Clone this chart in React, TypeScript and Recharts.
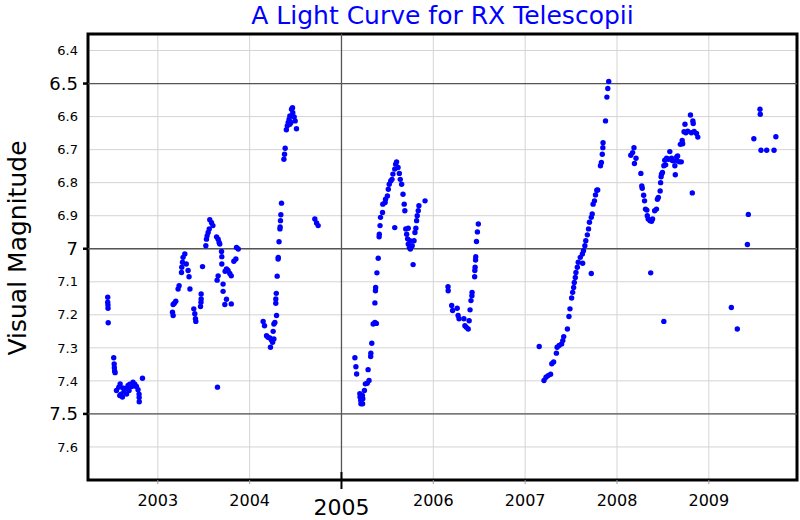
import {
  ScatterChart,
  Scatter,
  XAxis,
  YAxis,
  CartesianGrid,
  ReferenceLine,
  ReferenceArea,
} from 'recharts';

// axis ranges and ticks
const X_MIN = 2002.24;
const X_MAX = 2009.96;
const Y_MIN = 6.35;
const Y_MAX = 7.7;
const YEAR_TICKS = [2003, 2004, 2005, 2006, 2007, 2008, 2009];
const MAG_TICKS = [6.4, 6.5, 6.6, 6.7, 6.8, 6.9, 7, 7.1, 7.2, 7.3, 7.4, 7.5, 7.6];
const MAJOR_MAGS = [6.5, 7, 7.5];
const MAJOR_YEAR = 2005;

// observations: [year, visual magnitude], one list per season
const SEASON_2002 = [
  [2002.455, 7.147], [2002.455, 7.162], [2002.457, 7.17], [2002.458, 7.18], [2002.46, 7.224],
  [2002.52, 7.33], [2002.525, 7.349], [2002.527, 7.36], [2002.53, 7.37], [2002.535, 7.375],
  [2002.55, 7.429], [2002.575, 7.419], [2002.59, 7.409], [2002.586, 7.444], [2002.6, 7.44],
  [2002.615, 7.449], [2002.62, 7.421], [2002.63, 7.434], [2002.65, 7.424], [2002.66, 7.44],
  [2002.676, 7.414], [2002.687, 7.429], [2002.695, 7.41], [2002.714, 7.417], [2002.73, 7.404],
  [2002.74, 7.415], [2002.75, 7.41], [2002.768, 7.417], [2002.785, 7.427], [2002.796, 7.44],
  [2002.797, 7.45], [2002.798, 7.463], [2002.833, 7.392],
];
const SEASON_2003 = [
  [2003.16, 7.192], [2003.167, 7.169], [2003.167, 7.202], [2003.18, 7.165], [2003.196, 7.159],
  [2003.221, 7.122], [2003.232, 7.112], [2003.258, 7.072], [2003.261, 7.056], [2003.269, 7.041],
  [2003.275, 7.026], [2003.294, 7.016], [2003.31, 7.046], [2003.33, 7.066], [2003.34, 7.085],
  [2003.35, 7.122], [2003.392, 7.182], [2003.403, 7.197], [2003.41, 7.212], [2003.414, 7.22],
  [2003.465, 7.175], [2003.47, 7.162], [2003.472, 7.152], [2003.472, 7.137], [2003.487, 7.054],
  [2003.523, 6.991], [2003.53, 6.971], [2003.537, 6.961], [2003.548, 6.951], [2003.56, 6.94],
  [2003.566, 6.912], [2003.585, 6.921], [2003.6, 6.93], [2003.64, 6.964], [2003.646, 7.095],
  [2003.65, 7.419], [2003.657, 6.971], [2003.657, 7.082], [2003.668, 6.981], [2003.675, 6.986],
  [2003.694, 7.008], [2003.697, 7.024], [2003.697, 7.046], [2003.711, 7.107], [2003.711, 7.129],
  [2003.73, 7.169], [2003.733, 7.068], [2003.748, 7.061], [2003.748, 7.153], [2003.765, 7.066],
  [2003.784, 7.075], [2003.8, 7.082], [2003.8, 7.167], [2003.828, 7.038], [2003.85, 7.031],
  [2003.857, 6.996], [2003.876, 7.001],
];
const SEASON_2004 = [
  [2004.147, 7.22], [2004.162, 7.233], [2004.184, 7.263], [2004.2, 7.268], [2004.22, 7.27],
  [2004.227, 7.298], [2004.238, 7.276], [2004.25, 7.283], [2004.264, 7.273], [2004.256, 7.25],
  [2004.264, 7.228], [2004.275, 7.223], [2004.293, 7.202], [2004.285, 7.165], [2004.285, 7.152],
  [2004.29, 7.135], [2004.3, 7.083], [2004.31, 7.031], [2004.312, 7.026], [2004.32, 6.979],
  [2004.33, 6.94], [2004.332, 6.934], [2004.336, 6.915], [2004.34, 6.897], [2004.347, 6.862],
  [2004.373, 6.729], [2004.38, 6.714], [2004.387, 6.696], [2004.4, 6.64], [2004.41, 6.628],
  [2004.42, 6.618], [2004.43, 6.608], [2004.438, 6.598], [2004.438, 6.623], [2004.449, 6.618],
  [2004.456, 6.578], [2004.467, 6.573], [2004.47, 6.588], [2004.485, 6.601], [2004.496, 6.613],
  [2004.51, 6.637], [2004.71, 6.91], [2004.729, 6.922], [2004.746, 6.93],
];
const SEASON_2005 = [
  [2005.146, 7.33], [2005.157, 7.357], [2005.165, 7.379], [2005.2, 7.439], [2005.202, 7.449],
  [2005.21, 7.459], [2005.212, 7.469], [2005.23, 7.469], [2005.232, 7.454], [2005.228, 7.444],
  [2005.25, 7.429], [2005.26, 7.409], [2005.28, 7.407], [2005.3, 7.399], [2005.29, 7.366],
  [2005.318, 7.326], [2005.32, 7.316], [2005.33, 7.286], [2005.345, 7.228], [2005.364, 7.223],
  [2005.38, 7.226], [2005.364, 7.164], [2005.37, 7.127], [2005.372, 7.117], [2005.386, 7.073],
  [2005.4, 7.029], [2005.41, 6.964], [2005.412, 6.956], [2005.42, 6.93], [2005.425, 6.905],
  [2005.447, 6.89], [2005.45, 6.865], [2005.475, 6.86], [2005.48, 6.85], [2005.5, 6.84],
  [2005.51, 6.82], [2005.52, 6.805], [2005.536, 6.795], [2005.55, 6.79], [2005.56, 6.774],
  [2005.58, 6.759], [2005.59, 6.744], [2005.6, 6.737], [2005.616, 6.754], [2005.63, 6.772],
  [2005.64, 6.79], [2005.655, 6.805], [2005.67, 6.835], [2005.683, 6.865], [2005.69, 6.885],
  [2005.58, 6.936], [2005.7, 6.94], [2005.71, 6.956], [2005.72, 6.97], [2005.727, 6.986],
  [2005.727, 6.938], [2005.74, 6.996], [2005.745, 6.976], [2005.75, 7.001], [2005.76, 6.994],
  [2005.77, 6.991], [2005.78, 7.048], [2005.79, 6.976], [2005.8, 6.951], [2005.81, 6.938],
  [2005.818, 6.915], [2005.825, 6.9], [2005.836, 6.885], [2005.843, 6.87], [2005.91, 6.855],
];
const SEASON_2006 = [
  [2006.16, 7.115], [2006.162, 7.127], [2006.2, 7.172], [2006.21, 7.187], [2006.26, 7.18],
  [2006.27, 7.202], [2006.28, 7.212], [2006.333, 7.212], [2006.344, 7.233], [2006.36, 7.238],
  [2006.38, 7.243], [2006.39, 7.218], [2006.4, 7.185], [2006.41, 7.157], [2006.42, 7.142],
  [2006.422, 7.132], [2006.45, 7.085], [2006.452, 7.066], [2006.455, 7.056], [2006.46, 7.034],
  [2006.462, 7.024], [2006.47, 6.978], [2006.48, 6.949], [2006.49, 6.925],
];
const SEASON_2007 = [
  [2007.153, 7.296], [2007.205, 7.399], [2007.227, 7.389], [2007.25, 7.384], [2007.277, 7.38],
  [2007.29, 7.348], [2007.31, 7.343], [2007.34, 7.316], [2007.348, 7.298], [2007.37, 7.293],
  [2007.397, 7.288], [2007.41, 7.278], [2007.42, 7.266], [2007.46, 7.243], [2007.477, 7.205],
  [2007.488, 7.182], [2007.506, 7.149], [2007.517, 7.132], [2007.528, 7.117], [2007.535, 7.102],
  [2007.546, 7.087], [2007.553, 7.072], [2007.568, 7.056], [2007.578, 7.041], [2007.6, 7.026],
  [2007.623, 7.016], [2007.626, 7.044], [2007.635, 7.006], [2007.65, 6.991], [2007.66, 6.976],
  [2007.677, 6.958], [2007.69, 6.94], [2007.7, 6.92], [2007.72, 6.905], [2007.72, 7.075],
  [2007.73, 6.895], [2007.74, 6.865], [2007.755, 6.855], [2007.766, 6.837], [2007.78, 6.823],
  [2007.79, 6.822], [2007.82, 6.749], [2007.83, 6.739], [2007.84, 6.714], [2007.846, 6.694],
  [2007.848, 6.679], [2007.875, 6.613], [2007.89, 6.541], [2007.9, 6.515], [2007.91, 6.494],
];
const SEASON_2008 = [
  [2008.15, 6.717], [2008.17, 6.709], [2008.185, 6.694], [2008.19, 6.742], [2008.207, 6.726],
  [2008.26, 6.772], [2008.27, 6.81], [2008.275, 6.817], [2008.29, 6.838], [2008.3, 6.855],
  [2008.31, 6.88], [2008.325, 6.883], [2008.33, 6.9], [2008.34, 6.91], [2008.36, 6.915],
  [2008.367, 7.073], [2008.376, 6.917], [2008.387, 6.91], [2008.41, 6.885], [2008.43, 6.88],
  [2008.44, 6.85], [2008.45, 6.845], [2008.47, 6.825], [2008.475, 6.8], [2008.48, 6.782],
  [2008.485, 6.774], [2008.495, 6.769], [2008.51, 6.749], [2008.51, 7.22], [2008.52, 6.732],
  [2008.53, 6.746], [2008.54, 6.726], [2008.56, 6.729], [2008.575, 6.706], [2008.594, 6.726],
  [2008.6, 6.732], [2008.61, 6.734], [2008.63, 6.749], [2008.635, 6.776], [2008.65, 6.722],
  [2008.655, 6.734], [2008.66, 6.719], [2008.68, 6.737], [2008.69, 6.684], [2008.7, 6.737],
  [2008.71, 6.672], [2008.715, 6.682], [2008.73, 6.646], [2008.74, 6.623], [2008.75, 6.649],
  [2008.77, 6.644], [2008.8, 6.595], [2008.81, 6.649], [2008.82, 6.831], [2008.826, 6.613],
  [2008.83, 6.621], [2008.84, 6.645], [2008.866, 6.651], [2008.88, 6.662],
];
const SEASON_2009 = [
  [2009.245, 7.178], [2009.31, 7.243], [2009.42, 6.987], [2009.43, 6.896], [2009.49, 6.667],
  [2009.557, 6.578], [2009.56, 6.593], [2009.568, 6.702], [2009.63, 6.702], [2009.71, 6.702],
  [2009.73, 6.661],
];

const SEASONS = [
  SEASON_2002, SEASON_2003, SEASON_2004, SEASON_2005,
  SEASON_2006, SEASON_2007, SEASON_2008, SEASON_2009,
];

const FONT = '"DejaVu Sans", sans-serif';
const BLUE = '#0000ff';

const points = SEASONS.flat().map(([year, mag]) => ({ year, mag }));

function YearTick({ x, y, payload }: any) {
  const major = payload.value === MAJOR_YEAR;
  return (
    <g>
      {major ? (
        <line x1={x} x2={x} y1={y - 8} y2={y + 9} stroke="#000" strokeWidth={2} />
      ) : (
        <line x1={x} x2={x} y1={y} y2={y + 4} stroke="#999" strokeWidth={1} />
      )}
      <text
        x={x}
        y={major ? y + 35 : y + 26}
        textAnchor="middle"
        fontFamily={FONT}
        fontSize={major ? 22 : 16}
        fill="#000"
      >
        {payload.value}
      </text>
    </g>
  );
}

function MagTick({ x, y, payload }: any) {
  const major = MAJOR_MAGS.includes(payload.value);
  const size = major ? 18 : 13;
  return (
    <g>
      {major && <line x1={x - 5} x2={x} y1={y} y2={y} stroke="#000" strokeWidth={2.5} />}
      <text
        x={x - 10}
        y={y + size * 0.36}
        textAnchor="end"
        fontFamily={FONT}
        fontSize={size}
        fill="#000"
      >
        {String(payload.value)}
      </text>
    </g>
  );
}

export default function App() {
  return (
    <div style={{ position: 'absolute', left: 0, top: 0, width: 800, height: 520, background: '#fff' }}>
      <div
        style={{
          position: 'absolute',
          left: 0,
          width: 885,
          top: 1,
          textAlign: 'center',
          fontFamily: FONT,
          fontSize: 25,
          lineHeight: '30px',
          color: BLUE,
          whiteSpace: 'nowrap',
        }}
      >
        A Light Curve for RX Telescopii
      </div>
      <div
        style={{
          position: 'absolute',
          left: 17,
          top: 248,
          transform: 'translate(-50%, -50%) rotate(-90deg)',
          fontFamily: FONT,
          fontSize: 25,
          lineHeight: '25px',
          color: '#000',
          whiteSpace: 'nowrap',
        }}
      >
        Visual Magnitude
      </div>
      <div style={{ position: 'absolute', left: 0, top: 0 }}>
        <ScatterChart width={800} height={520} margin={{ top: 34, right: 3, bottom: 0, left: 0 }}>
          <CartesianGrid stroke="#d4d4d4" strokeWidth={1} />
          <XAxis
            type="number"
            dataKey="year"
            domain={[X_MIN, X_MAX]}
            ticks={YEAR_TICKS}
            interval={0}
            allowDataOverflow
            height={40}
            axisLine={false}
            tickLine={false}
            tickSize={0}
            tickMargin={0}
            tick={YearTick}
          />
          <YAxis
            type="number"
            dataKey="mag"
            domain={[Y_MIN, Y_MAX]}
            reversed
            ticks={MAG_TICKS}
            interval={0}
            allowDataOverflow
            width={88}
            axisLine={false}
            tickLine={false}
            tickSize={0}
            tickMargin={0}
            tick={MagTick}
          />
          {MAJOR_MAGS.map((m) => (
            <ReferenceLine key={m} y={m} stroke="#555" strokeWidth={1.3} />
          ))}
          <ReferenceLine x={MAJOR_YEAR} stroke="#555" strokeWidth={1.3} />
          <ReferenceArea
            x1={X_MIN}
            x2={X_MAX}
            y1={Y_MIN}
            y2={Y_MAX}
            fill="none"
            fillOpacity={0}
            stroke="#000"
            strokeWidth={3}
          />
          <Scatter
            data={points}
            isAnimationActive={false}
            shape={(p: any) => <circle cx={p.cx} cy={p.cy} r={2.7} fill={BLUE} />}
          />
        </ScatterChart>
      </div>
    </div>
  );
}
